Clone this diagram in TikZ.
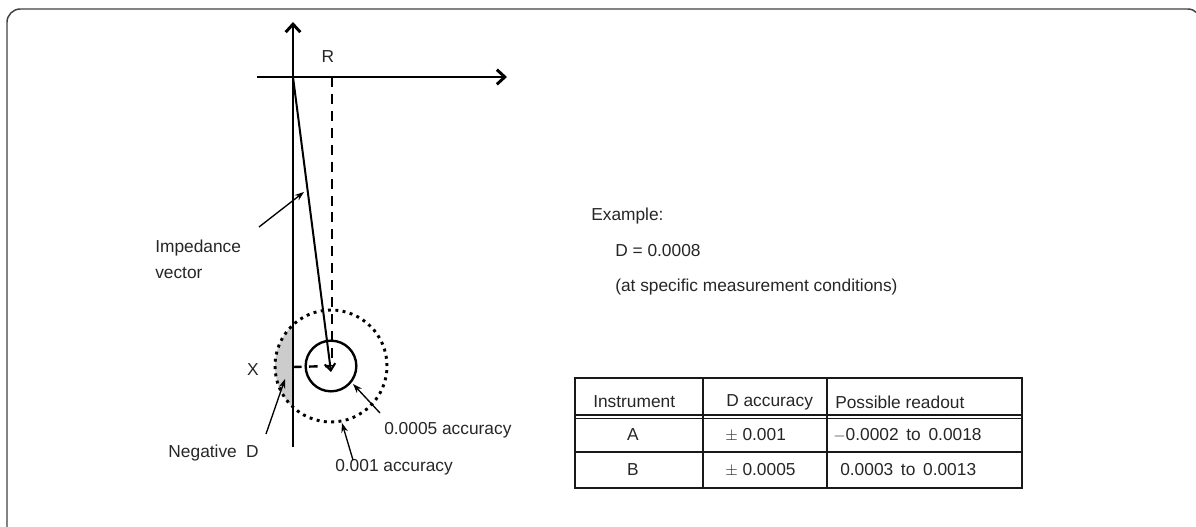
\documentclass[tikz,border=0pt]{standalone}
\usepackage{fontspec}
\setmainfont{Liberation Sans}
\usetikzlibrary{arrows.meta}
\definecolor{txtc}{HTML}{262626}
\begin{document}
\begin{tikzpicture}[x=0.75pt,y=-0.75pt,
  font=\fontsize{13}{15.5}\selectfont,
  txt/.style={inner sep=0pt, text=txtc},
  axis/.style={line width=2.2pt, -{Straight Barb[length=6pt,width=11pt,line width=2.2pt]}},
  vec/.style={line width=1.5pt, -{Straight Barb[length=5pt,width=8pt,line width=1.5pt]}},
  ptr/.style={line width=1pt, -{Stealth[length=7pt,width=5pt]}},
  tline/.style={line width=1.1pt, draw=black!90}]
\useasboundingbox (0,0) rectangle (1196,527);
\begin{scope}
  \clip (0,0) rectangle (1196,527);
  \draw[line width=1.1pt, draw=black!75, rounded corners=10pt] (7,9) rectangle (1201,545);
\end{scope}
% key points
\coordinate (O) at (293,77);
\coordinate (C) at (331,366);
\coordinate (Vtop) at (293,22);
\coordinate (Vbot) at (293,447);
\coordinate (Hl) at (257,77);
\coordinate (Hr) at (507,77);
\coordinate (Rtop) at (332,77);
\coordinate (Rbot) at (332,366);
\coordinate (Xl) at (293,367);
\coordinate (Vtip) at (331,372);
% gray negative D region
\begin{scope}
  \clip (200,290) rectangle (293,440);
  \fill[gray!40] (C) circle (42pt);
\end{scope}
% dotted circle
\draw[line width=2.2pt, dash pattern=on 2.2pt off 3.3pt] (C) circle (42pt);
% small circle
\draw[line width=1.8pt] (C) circle (19pt);
% axes
\draw[axis] (Vbot) -- (Vtop);
\draw[axis] (Hl) -- (Hr);
% dashed lines
\draw[line width=1.8pt, dash pattern=on 7.5pt off 5.2pt] (Rtop) -- (Rbot);
\draw[line width=1.8pt, dash pattern=on 6.5pt off 5.5pt] (Xl) -- (C);
% impedance vector
\draw[vec] (O) -- (Vtip);
% labels
\node[txt] (R) at (328,57) {R};
\node[txt] (X) at (253,370) {X};
\node[txt, anchor=west, align=left] (imp) at (155,259) {Impedance\\[4pt]vector};
\node[txt, anchor=east] (neg) at (259,453) {Negative\hspace{7pt}D};
\node[txt, anchor=west] (acc5) at (384,430) {0.0005 accuracy};
\node[txt, anchor=west] (acc1) at (335,467) {0.001 accuracy};
% pointer arrows
\coordinate (impT) at (259,227);
\coordinate (impH) at (304,192);
\coordinate (negT) at (266,434);
\coordinate (negH) at (285,379);
\coordinate (a5T) at (380,413);
\coordinate (a5H) at (353,384);
\coordinate (a1T) at (353,460);
\coordinate (a1H) at (342,423);
\draw[ptr] (impT) -- (impH);
\draw[ptr] (negT) -- (negH);
\draw[ptr] (a5T) -- (a5H);
\draw[ptr] (a1T) -- (a1H);
% example text
\node[txt, anchor=west] (ex) at (591,216) {Example:};
\node[txt, anchor=west] (dval) at (615,251) {D = 0.0008};
\node[txt, anchor=west] (cond) at (615,287) {(at specific measurement conditions)};
% table
\draw[tline] (575,378) rectangle (1022,488);
\draw[tline] (575,415) -- (1022,415);
\draw[tline] (575,418.5) -- (1022,418.5);
\draw[tline] (575,452) -- (1022,452);
\draw[tline] (703,378) -- (703,488);
\draw[tline] (827,378) -- (827,488);
\node[txt, anchor=west] (h1) at (593,402) {Instrument};
\node[txt, anchor=west] (h2) at (726,402) {D accuracy};
\node[txt, anchor=west] (h3) at (835,402) {Possible readout};
\node[txt] (a1) at (633,435) {A};
\node[txt, anchor=west] (a2) at (725,435) {$\pm$ 0.001};
\node[txt, anchor=west] (a3) at (833,435) {$-$0.0002\, to\, 0.0018};
\node[txt] (b1) at (633,470) {B};
\node[txt, anchor=west] (b2) at (725,470) {$\pm$ 0.0005};
\node[txt, anchor=west] (b3) at (840,470) {0.0003\, to\, 0.0013};
\end{tikzpicture}
\end{document}
